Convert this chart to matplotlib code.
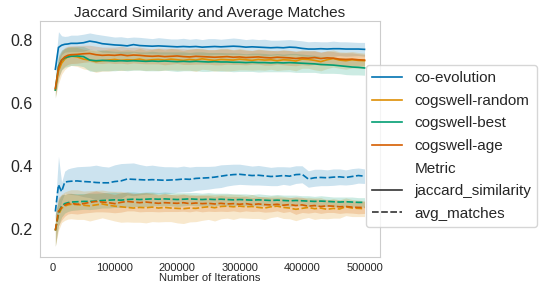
import matplotlib
matplotlib.use("Agg")
import matplotlib.pyplot as plt
from matplotlib.lines import Line2D
import numpy as np

iterations = [5000, 10000, 15000, 20000, 25000, 30000, 40000, 50000, 60000, 70000,
              80000, 90000, 100000, 110000, 120000, 130000, 140000, 150000, 160000, 170000,
              180000, 190000, 200000, 210000, 220000, 230000, 240000, 250000, 260000, 270000,
              280000, 290000, 300000, 310000, 320000, 330000, 340000, 350000, 360000, 370000,
              380000, 390000, 400000, 410000, 420000, 430000, 440000, 450000, 460000, 470000,
              480000, 490000, 500000]

methods = ['co-evolution', 'cogswell-random', 'cogswell-best', 'cogswell-age']
colors = ['#0173b2', '#de8f05', '#029e73', '#d55e00']

# jaccard_similarity (mean)
coevo_jac = [0.706, 0.775, 0.782, 0.785, 0.786, 0.788, 0.788, 0.790, 0.795, 0.792,
             0.787, 0.785, 0.783, 0.782, 0.780, 0.784, 0.781, 0.780, 0.779, 0.780,
             0.779, 0.778, 0.777, 0.778, 0.777, 0.778, 0.776, 0.777, 0.778, 0.777,
             0.778, 0.779, 0.778, 0.776, 0.777, 0.776, 0.775, 0.774, 0.775, 0.774,
             0.776, 0.775, 0.772, 0.770, 0.770, 0.771, 0.770, 0.771, 0.771, 0.770,
             0.770, 0.770, 0.769]
random_jac = [0.640, 0.700, 0.725, 0.738, 0.745, 0.748, 0.745, 0.738, 0.735, 0.730,
              0.733, 0.735, 0.737, 0.734, 0.736, 0.735, 0.738, 0.734, 0.736, 0.737,
              0.735, 0.738, 0.736, 0.734, 0.737, 0.735, 0.739, 0.736, 0.734, 0.737,
              0.736, 0.735, 0.738, 0.736, 0.734, 0.737, 0.735, 0.736, 0.733, 0.736,
              0.735, 0.732, 0.738, 0.737, 0.734, 0.730, 0.736, 0.740, 0.735, 0.733,
              0.736, 0.734, 0.733]
best_jac = [0.640, 0.715, 0.735, 0.742, 0.745, 0.747, 0.748, 0.746, 0.735, 0.733,
            0.734, 0.733, 0.732, 0.733, 0.732, 0.733, 0.732, 0.731, 0.732, 0.731,
            0.732, 0.731, 0.730, 0.731, 0.730, 0.731, 0.730, 0.729, 0.730, 0.729,
            0.729, 0.728, 0.728, 0.727, 0.728, 0.727, 0.727, 0.726, 0.727, 0.726,
            0.727, 0.726, 0.725, 0.724, 0.723, 0.721, 0.720, 0.719, 0.717, 0.715,
            0.713, 0.712, 0.710]
age_jac = [0.645, 0.710, 0.735, 0.745, 0.750, 0.752, 0.753, 0.755, 0.756, 0.752,
           0.750, 0.751, 0.750, 0.752, 0.749, 0.751, 0.750, 0.748, 0.747, 0.748,
           0.746, 0.747, 0.748, 0.746, 0.745, 0.747, 0.746, 0.745, 0.744, 0.745,
           0.746, 0.744, 0.745, 0.743, 0.744, 0.745, 0.743, 0.742, 0.744, 0.743,
           0.742, 0.740, 0.742, 0.741, 0.743, 0.740, 0.742, 0.741, 0.738, 0.737,
           0.738, 0.736, 0.735]

# avg_matches (mean)
coevo_avg = [0.255, 0.340, 0.318, 0.348, 0.350, 0.351, 0.352, 0.350, 0.349, 0.347,
             0.346, 0.346, 0.350, 0.352, 0.358, 0.357, 0.356, 0.355, 0.356, 0.355,
             0.354, 0.355, 0.356, 0.358, 0.357, 0.360, 0.361, 0.362, 0.364, 0.367,
             0.370, 0.372, 0.373, 0.371, 0.369, 0.370, 0.368, 0.366, 0.367, 0.369,
             0.367, 0.372, 0.373, 0.358, 0.362, 0.363, 0.362, 0.364, 0.365, 0.363,
             0.366, 0.369, 0.367]
random_avg = [0.195, 0.245, 0.265, 0.272, 0.276, 0.278, 0.277, 0.275, 0.273, 0.276,
              0.279, 0.275, 0.272, 0.270, 0.268, 0.266, 0.268, 0.267, 0.269, 0.266,
              0.268, 0.266, 0.265, 0.264, 0.266, 0.265, 0.268, 0.270, 0.267, 0.271,
              0.272, 0.270, 0.272, 0.270, 0.271, 0.268, 0.266, 0.270, 0.272, 0.268,
              0.266, 0.262, 0.265, 0.268, 0.264, 0.266, 0.262, 0.265, 0.263, 0.270,
              0.266, 0.265, 0.264]
best_avg = [0.195, 0.250, 0.272, 0.280, 0.283, 0.285, 0.286, 0.287, 0.287, 0.288,
            0.290, 0.291, 0.292, 0.291, 0.293, 0.294, 0.293, 0.294, 0.295, 0.294,
            0.295, 0.294, 0.293, 0.294, 0.295, 0.294, 0.293, 0.294, 0.293, 0.294,
            0.293, 0.292, 0.293, 0.292, 0.291, 0.292, 0.291, 0.290, 0.291, 0.290,
            0.289, 0.290, 0.289, 0.288, 0.287, 0.288, 0.287, 0.286, 0.285, 0.286,
            0.285, 0.284, 0.284]
age_avg = [0.195, 0.255, 0.268, 0.275, 0.280, 0.281, 0.278, 0.280, 0.284, 0.287,
           0.285, 0.283, 0.280, 0.284, 0.287, 0.285, 0.283, 0.285, 0.283, 0.281,
           0.283, 0.282, 0.281, 0.283, 0.280, 0.282, 0.280, 0.281, 0.279, 0.281,
           0.279, 0.280, 0.278, 0.280, 0.277, 0.279, 0.277, 0.276, 0.278, 0.275,
           0.277, 0.274, 0.276, 0.272, 0.274, 0.271, 0.273, 0.272, 0.270, 0.271,
           0.269, 0.268, 0.268]

# half width of the confidence bands
coevo_jac_hw = [0.015, 0.050, 0.030, 0.025, 0.025, 0.026, 0.026, 0.027, 0.026, 0.025,
                0.027, 0.026, 0.025, 0.027, 0.026, 0.024, 0.026, 0.025, 0.024, 0.026,
                0.025, 0.024, 0.025, 0.026, 0.024, 0.025, 0.024, 0.026, 0.025, 0.024,
                0.025, 0.026, 0.025, 0.024, 0.025, 0.024, 0.026, 0.024, 0.023, 0.025,
                0.024, 0.023, 0.024, 0.023, 0.024, 0.022, 0.023, 0.024, 0.022, 0.023,
                0.022, 0.021, 0.022]
random_jac_hw = [0.025, 0.040, 0.035, 0.033, 0.032, 0.030, 0.030, 0.031, 0.032, 0.034,
                 0.033, 0.035, 0.034, 0.032, 0.033, 0.031, 0.034, 0.032, 0.033, 0.035,
                 0.032, 0.034, 0.033, 0.031, 0.034, 0.036, 0.033, 0.032, 0.034, 0.035,
                 0.036, 0.033, 0.034, 0.032, 0.031, 0.033, 0.032, 0.030, 0.031, 0.032,
                 0.030, 0.031, 0.029, 0.028, 0.030, 0.029, 0.028, 0.027, 0.026, 0.027,
                 0.026, 0.025, 0.024]
best_jac_hw = [0.025, 0.035, 0.032, 0.030, 0.030, 0.029, 0.030, 0.032, 0.035, 0.034,
               0.033, 0.032, 0.031, 0.030, 0.031, 0.030, 0.029, 0.030, 0.031, 0.030,
               0.029, 0.030, 0.031, 0.030, 0.029, 0.030, 0.031, 0.030, 0.029, 0.030,
               0.029, 0.030, 0.029, 0.028, 0.029, 0.030, 0.029, 0.028, 0.029, 0.028,
               0.029, 0.030, 0.029, 0.028, 0.027, 0.028, 0.027, 0.026, 0.025, 0.026,
               0.025, 0.024, 0.023]
age_jac_hw = [0.025, 0.035, 0.030, 0.030, 0.029, 0.028, 0.028, 0.027, 0.026, 0.027,
              0.026, 0.025, 0.026, 0.027, 0.026, 0.025, 0.026, 0.025, 0.024, 0.025,
              0.026, 0.025, 0.024, 0.025, 0.024, 0.025, 0.024, 0.023, 0.024, 0.025,
              0.024, 0.023, 0.024, 0.023, 0.022, 0.023, 0.024, 0.023, 0.022, 0.023,
              0.024, 0.023, 0.022, 0.023, 0.022, 0.021, 0.022, 0.021, 0.020, 0.021,
              0.020, 0.019, 0.018]
coevo_avg_hw = [0.020, 0.090, 0.030, 0.035, 0.040, 0.042, 0.045, 0.048, 0.050, 0.055,
                0.052, 0.050, 0.053, 0.055, 0.050, 0.052, 0.048, 0.045, 0.046, 0.044,
                0.043, 0.042, 0.040, 0.041, 0.039, 0.038, 0.037, 0.036, 0.035, 0.036,
                0.034, 0.033, 0.032, 0.031, 0.030, 0.031, 0.030, 0.029, 0.030, 0.028,
                0.029, 0.028, 0.027, 0.026, 0.027, 0.026, 0.025, 0.026, 0.025, 0.024,
                0.025, 0.024, 0.023]
random_avg_hw = [0.050, 0.050, 0.045, 0.045, 0.045, 0.046, 0.047, 0.045, 0.048, 0.046,
                 0.044, 0.045, 0.047, 0.049, 0.046, 0.045, 0.047, 0.048, 0.046, 0.044,
                 0.045, 0.043, 0.046, 0.047, 0.044, 0.042, 0.041, 0.040, 0.042, 0.039,
                 0.038, 0.040, 0.037, 0.036, 0.038, 0.035, 0.036, 0.034, 0.033, 0.035,
                 0.034, 0.036, 0.033, 0.032, 0.034, 0.033, 0.030, 0.031, 0.029, 0.028,
                 0.027, 0.026, 0.025]
best_avg_hw = [0.050, 0.040, 0.035, 0.030, 0.028, 0.027, 0.026, 0.025, 0.026, 0.025,
               0.024, 0.025, 0.024, 0.023, 0.024, 0.023, 0.022, 0.023, 0.022, 0.021,
               0.022, 0.021, 0.022, 0.021, 0.020, 0.021, 0.020, 0.021, 0.020, 0.019,
               0.020, 0.019, 0.018, 0.019, 0.018, 0.019, 0.018, 0.017, 0.018, 0.017,
               0.018, 0.017, 0.016, 0.017, 0.016, 0.017, 0.016, 0.015, 0.016, 0.015,
               0.016, 0.015, 0.015]
age_avg_hw = [0.050, 0.045, 0.040, 0.035, 0.033, 0.032, 0.031, 0.030, 0.032, 0.033,
              0.031, 0.030, 0.029, 0.031, 0.030, 0.028, 0.029, 0.030, 0.028, 0.027,
              0.028, 0.027, 0.026, 0.027, 0.026, 0.025, 0.026, 0.025, 0.024, 0.025,
              0.024, 0.023, 0.024, 0.023, 0.022, 0.023, 0.024, 0.022, 0.021, 0.023,
              0.022, 0.028, 0.024, 0.022, 0.021, 0.022, 0.021, 0.020, 0.021, 0.020,
              0.019, 0.020, 0.019]

jac = [coevo_jac, random_jac, best_jac, age_jac]
jac_hw = [coevo_jac_hw, random_jac_hw, best_jac_hw, age_jac_hw]
avg = [coevo_avg, random_avg, best_avg, age_avg]
avg_hw = [coevo_avg_hw, random_avg_hw, best_avg_hw, age_avg_hw]

plt.rcParams['font.family'] = ['Liberation Sans', 'DejaVu Sans']

fig = plt.figure(figsize=(5.39, 2.91), dpi=100)
ax = fig.add_axes([0.074, 0.117, 0.631, 0.811])

x = np.array(iterations)
for i in range(len(methods)):
    m, s = np.array(jac[i]), np.array(jac_hw[i])
    ax.fill_between(x, m - s, m + s, color=colors[i], alpha=0.2, linewidth=0)
    ax.plot(x, m, color=colors[i], lw=1.2)
    m, s = np.array(avg[i]), np.array(avg_hw[i])
    ax.fill_between(x, m - s, m + s, color=colors[i], alpha=0.2, linewidth=0)
    ax.plot(x, m, color=colors[i], lw=1.2, dashes=(4, 1.5))

ax.set_xticks([0, 100000, 200000, 300000, 400000, 500000])
ax.set_yticks([0.2, 0.4, 0.6, 0.8])
ax.tick_params(axis='x', labelsize=8, length=0, pad=4, colors='.15')
ax.tick_params(axis='y', labelsize=11.5, length=0, pad=5, colors='.15')
for sp in ax.spines.values():
    sp.set_color('.8')
ax.set_xlabel('Number of Iterations', fontsize=8, color='.15', labelpad=0)
ax.set_title('Jaccard Similarity and Average Matches', fontsize=11, color='.15', pad=3)

handles = [Line2D([], [], color=c, lw=1.2) for c in colors]
handles.append(Line2D([], [], color='none'))
handles.append(Line2D([], [], color='.2', lw=1.2))
handles.append(Line2D([], [], color='.2', lw=1.2, dashes=(4, 1.5)))
labels = methods + ['Metric', 'jaccard_similarity', 'avg_matches']
leg = ax.legend(handles, labels, loc='center left', bbox_to_anchor=(0.935, 0.47),
                fontsize=11, frameon=True, labelspacing=0.56)
leg.get_frame().set_edgecolor('.8')
for t in leg.get_texts():
    t.set_color('.15')

fig.savefig('out.png', dpi=100)
